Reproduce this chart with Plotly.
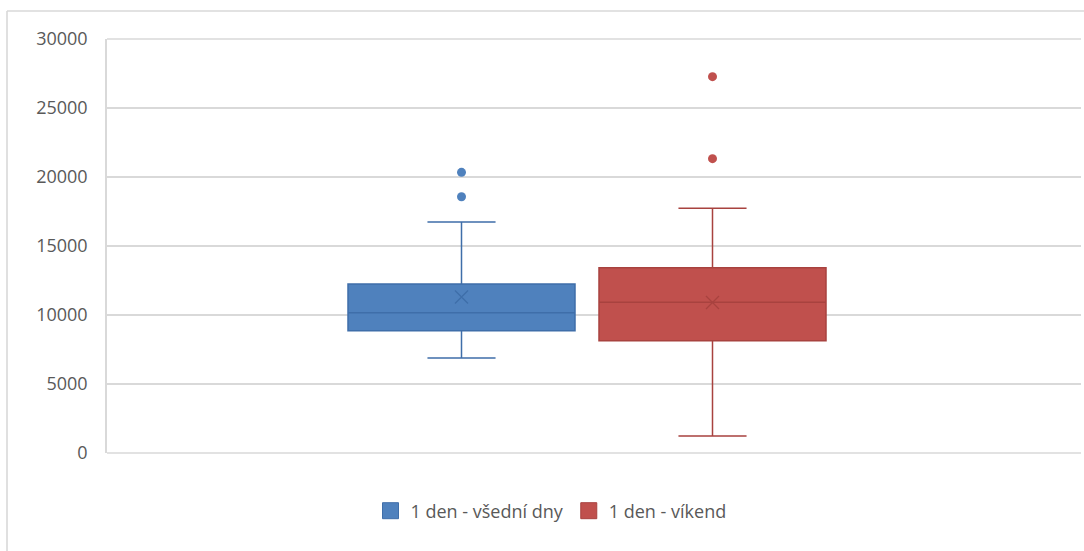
import plotly.graph_objects as go

# Daily values, summarised per group (box-plot statistics)
series_names = ["1 den - všední dny", "1 den - víkend"]
q1_values = [8860, 8140]
median_values = [10170, 10920]
q3_values = [12250, 13430]
lower_whisker = [6880, 1230]
upper_whisker = [16740, 17730]
mean_values = [11300, 10900]
outlier_values = [[18570, 20340], [21330, 27270]]
y_ticks = [0, 5000, 10000, 15000, 20000, 25000, 30000]

fill_colors = ["#4F81BD", "#C0504D"]
line_colors = ["#3F6EA9", "#A8423F"]
slot_positions = [0, 1]

W, H = 1084, 551
ml, mr, mt, mb = 107, 3, 39, 98
plot_w = W - ml - mr
plot_h = H - mt - mb

# x range chosen so the two boxes sit where they do in the layout
px_per_unit = 251.0
x_left = slot_positions[0] - (461.5 - ml) / px_per_unit
x_right = x_left + plot_w / px_per_unit
box_width = 227 / px_per_unit

GRID = "#D9D9D9"
GRID_W = 1.6

fig = go.Figure()

for i, name in enumerate(series_names):
    x0 = slot_positions[i]
    fig.add_trace(go.Box(
        name=name,
        x=[x0],
        q1=[q1_values[i]],
        median=[median_values[i]],
        q3=[q3_values[i]],
        lowerfence=[lower_whisker[i]],
        upperfence=[upper_whisker[i]],
        width=box_width,
        whiskerwidth=0.3,
        fillcolor=fill_colors[i],
        line=dict(color=line_colors[i], width=1.5),
        boxpoints=False,
        showlegend=False,
        hoverinfo="skip",
    ))
    # mean marker
    fig.add_trace(go.Scatter(
        x=[x0], y=[mean_values[i]],
        mode="markers",
        marker=dict(symbol="x-thin-open", size=13,
                    line=dict(color=line_colors[i], width=1.3),
                    color=line_colors[i]),
        showlegend=False, hoverinfo="skip",
    ))
    # outliers
    fig.add_trace(go.Scatter(
        x=[x0] * len(outlier_values[i]), y=outlier_values[i],
        mode="markers",
        marker=dict(symbol="circle", size=9, color=fill_colors[i]),
        showlegend=False, hoverinfo="skip",
    ))

# legend entries: filled squares in the series colours
for i, name in enumerate(series_names):
    fig.add_trace(go.Scatter(
        x=[None], y=[None], name=name,
        mode="markers",
        marker=dict(symbol="square", size=16, color=fill_colors[i],
                    line=dict(color=line_colors[i], width=1)),
        hoverinfo="skip",
    ))

# grid lines at the bottom and top of the value range (plot edges)
for edge in (0, 1):
    fig.add_shape(type="line", xref="paper", yref="paper",
                  x0=0, x1=1, y0=edge, y1=edge, layer="below",
                  line=dict(color=GRID, width=GRID_W))

# outer chart frame
frame_left = (7 - ml) / plot_w
frame_top = 1 + (mt - 11) / plot_h
fig.add_shape(type="line", xref="paper", yref="paper",
              x0=frame_left, x1=1.2, y0=frame_top, y1=frame_top,
              line=dict(color=GRID, width=GRID_W))
fig.add_shape(type="line", xref="paper", yref="paper",
              x0=frame_left, x1=frame_left, y0=frame_top, y1=-0.5,
              line=dict(color=GRID, width=GRID_W))

font_family = "Open Sans, Liberation Sans, Arial, sans-serif"

fig.update_layout(
    width=W, height=H,
    margin=dict(l=ml, r=mr, t=mt, b=mb),
    paper_bgcolor="white",
    plot_bgcolor="white",
    font=dict(family=font_family, size=18, color="#595959"),
    showlegend=True,
    legend=dict(
        orientation="h",
        x=(551 - ml) / plot_w, xanchor="center",
        y=-(511 - (H - mb)) / plot_h, yanchor="middle",
        font=dict(size=18, color="#595959"),
        itemclick=False,
        itemwidth=30,
    ),
    xaxis=dict(
        range=[x_left, x_right],
        showticklabels=False,
        showgrid=False,
        zeroline=False,
        showline=False,
        fixedrange=True,
    ),
    yaxis=dict(
        range=[y_ticks[0], y_ticks[-1]],
        tickvals=y_ticks,
        ticktext=[str(v) for v in y_ticks],
        showgrid=True,
        gridcolor=GRID,
        gridwidth=GRID_W,
        zeroline=False,
        showline=True,
        linecolor=GRID,
        linewidth=GRID_W,
        mirror=False,
        ticks="",
        ticklabelstandoff=14,
        tickfont=dict(size=18, color="#595959"),
        fixedrange=True,
    ),
)

fig.write_html("out.html")
